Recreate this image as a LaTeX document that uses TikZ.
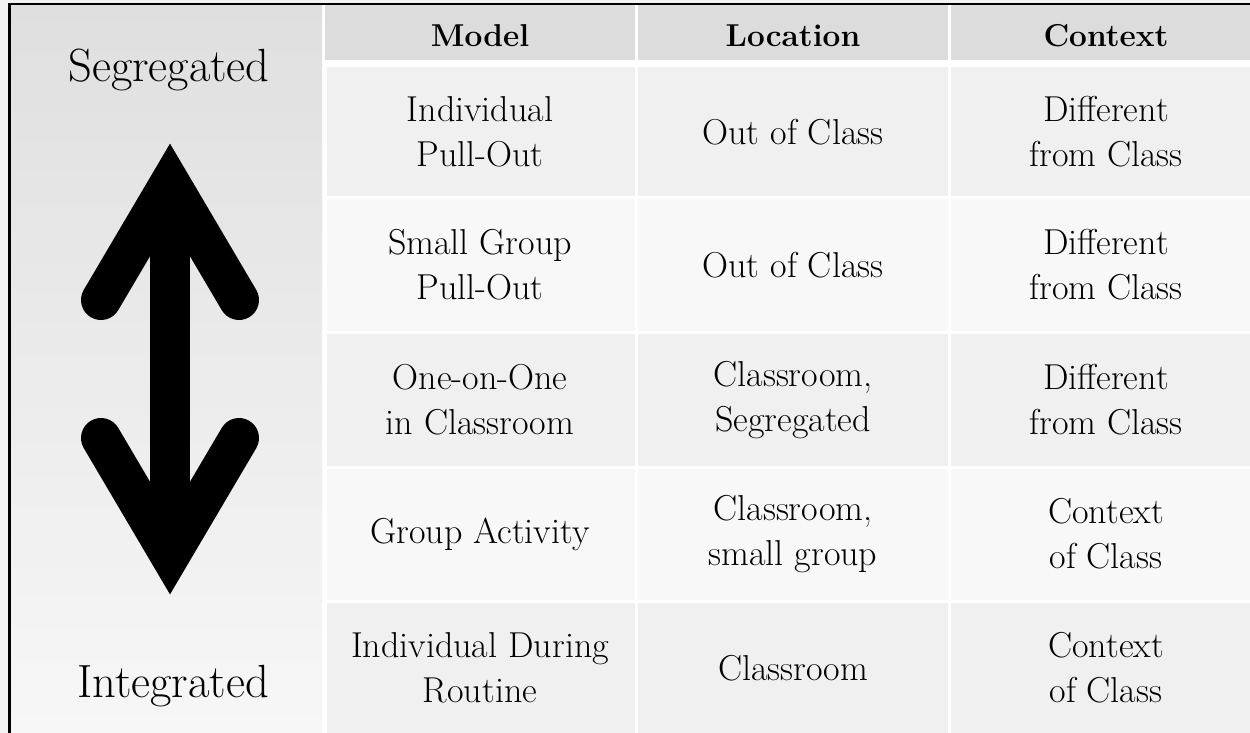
\documentclass[tikz,border=0pt]{standalone}
\usepackage{tikz}

\definecolor{headgray}{HTML}{DCDCDC}
\definecolor{rowdark}{HTML}{F0F0F0}
\definecolor{rowlight}{HTML}{F8F8F8}
\definecolor{paneltop}{HTML}{DFDFDF}
\definecolor{panelbot}{HTML}{F7F7F7}
\definecolor{outgray}{HTML}{F3F3F3}

\tikzset{
  cell/.style={align=center,font=\fontsize{20.5}{25.5}\selectfont},
  head/.style={anchor=base,font=\fontsize{18}{20}\selectfont\bfseries},
  side/.style={anchor=base,font=\fontsize{26.5}{30}\selectfont},
  bigarrow/.style={line width=0.8cm}
}

\begin{document}
\begin{tikzpicture}[x=0.02cm,y=-0.02cm]
\useasboundingbox (0,0) rectangle (1250,733);
\fill[outgray] (0,0) rectangle (1250,733);
\fill[white] (9,4) rectangle (1250,733);
%left panel
\shade[top color=paneltop,bottom color=panelbot] (10,5) rectangle (322,733);
\node[side] (seg) at (169,82) {Segregated};
\node[side] (integ) at (173,697) {Integrated};
%header row
\fill[headgray] (325,5) rectangle (635,60);
\fill[headgray] (638,5) rectangle (948,60);
\fill[headgray] (951,5) rectangle (1250,60);
\node[head] (hmodel) at (480,47) {Model};
\node[head] (hloc) at (793,47) {Location};
\node[head] (hctx) at (1106,47) {Context};
%body rows
\foreach \top/\bot/\col in {67/196/rowdark,199/331/rowlight,334/466/rowdark,469/600/rowlight,603/733/rowdark}{
  \fill[\col] (327,\top) rectangle (635,\bot);
  \fill[\col] (638,\top) rectangle (948,\bot);
  \fill[\col] (951,\top) rectangle (1250,\bot);
}
\node[cell] (m1) at (480,132) {Individual\\Pull-Out};
\node[cell] (l1) at (793,132) {Out of Class};
\node[cell] (c1) at (1106,132) {Different\\from Class};
\node[cell] (m2) at (480,265) {Small Group\\Pull-Out};
\node[cell] (l2) at (793,265) {Out of Class};
\node[cell] (c2) at (1106,265) {Different\\from Class};
\node[cell] (m3) at (480,400) {One-on-One\\in Classroom};
\node[cell] (l3) at (793,400) {Classroom,\\Segregated};
\node[cell] (c3) at (1106,400) {Different\\from Class};
\node[cell] (m4) at (480,534) {Group Activity};
\node[cell] (l4) at (793,534) {Classroom,\\small group};
\node[cell] (c4) at (1106,534) {Context\\of Class};
\node[cell] (m5) at (480,668) {Individual During\\Routine};
\node[cell] (l5) at (793,668) {Classroom};
\node[cell] (c5) at (1106,668) {Context\\of Class};
%double arrow
\coordinate (uptip) at (170,183);
\coordinate (dntip) at (170,555);
\draw[bigarrow] (uptip) -- (dntip);
\draw[bigarrow,line cap=round,line join=miter] (101,300) -- (uptip) -- (239,300);
\draw[bigarrow,line cap=round,line join=miter] (101,438) -- (dntip) -- (239,438);
%frame
\draw[line width=1.4pt] (9.5,733) -- (9.5,4) -- (1250,4);
\end{tikzpicture}
\end{document}
